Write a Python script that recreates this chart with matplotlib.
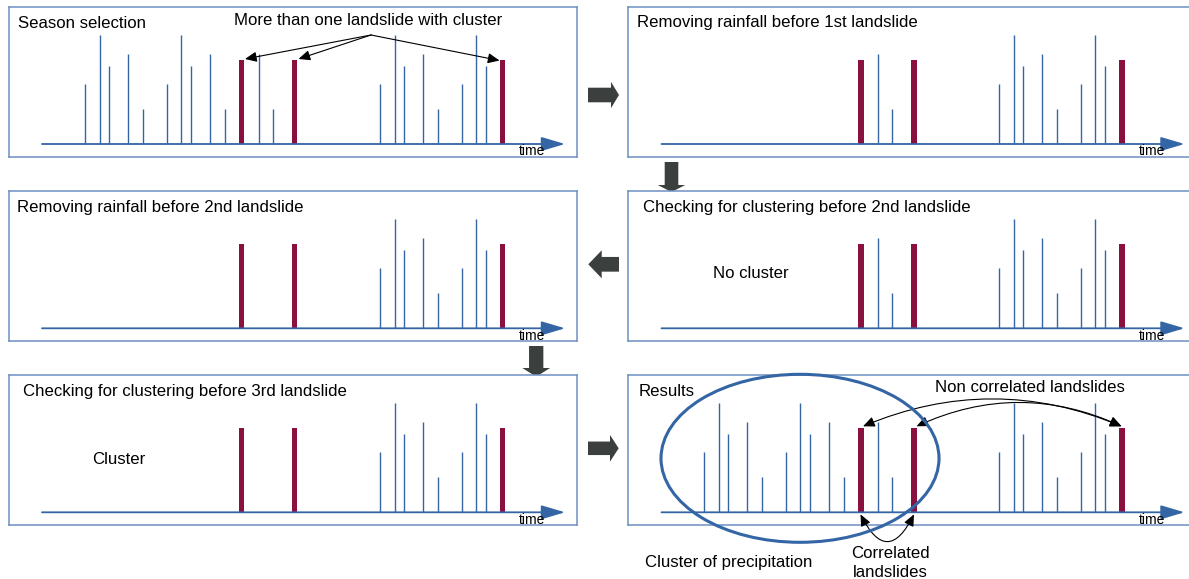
import numpy as np
import matplotlib.pyplot as plt
from matplotlib.patches import Ellipse, FancyArrow

plt.rcParams['font.family'] = ['Liberation Sans', 'DejaVu Sans']

# rainfall events (time units along the season) and their amounts
rain_time = [76, 90.5, 100, 119, 134, 158, 172, 182, 201, 216, 250, 264,
             371, 385.5, 395, 414, 429, 453, 467, 477]
rain_amount = [60, 109, 78, 90, 35, 60, 109, 78, 90, 35, 90, 35,
               60, 109, 78, 90, 35, 60, 109, 78]
# landslide events
slide_time = [232.5, 285.5, 493.5]
slide_size = [84, 84, 84]

panel_titles = ["Season selection",
                "Removing rainfall before 1st landslide",
                "Removing rainfall before 2nd landslide",
                "Checking for clustering before 2nd landslide",
                "Checking for clustering before 3rd landslide",
                "Results"]
# rainfall kept only after this landslide (None = keep all)
rain_after = [None, 0, 1, 0, 1, None]

W, H = 1189, 579
blue = "#3465a4"
box_col = "#6f8fc4"
red = "#8a1040"
grey = "#3b3f3d"
fs = 12.1

fig = plt.figure(figsize=(W / 100, H / 100), dpi=100)

# overlay for the block arrows between panels (pixel coords)
bg = fig.add_axes([0, 0, 1, 1], zorder=-1)
bg.set_xlim(0, W)
bg.set_ylim(H, 0)
bg.axis("off")
for x, y, dx, dy, w, hw, hl in [(588, 95, 31, 0, 14.6, 26.3, 8),
                                (671.5, 162, 0, 30, 13.6, 27.6, 7),
                                (619, 264.3, -30.7, 0, 14.7, 28, 13.4),
                                (536.2, 346, 0, 30.7, 14.3, 27.7, 8.7),
                                (588, 448.3, 30.7, 0, 13.5, 26.7, 8.7)]:
    bg.add_patch(FancyArrow(x, y, dx, dy, width=w, head_width=hw,
                            head_length=hl, length_includes_head=True,
                            color=grey, lw=0))

box_left = [9, 628.5]
box_top = [6.5, 190.8, 374.8]
box_w, box_h = 568, 150.5
title_pos = [(9.4, 121), (8.5, 122), (8.3, 121), (14.2, 120.5),
             (14.3, 120.5), (10, 120.5)]

axes = []
for i in range(6):
    r, c = divmod(i, 2)
    x0, y0 = box_left[c], box_top[r]
    ax = fig.add_axes([x0 / W, 1 - (y0 + box_h) / H, box_w / W, box_h / H])
    ax.set_xlim(0, box_w)
    ax.set_ylim(-13, box_h - 13)
    ax.set_xticks([])
    ax.set_yticks([])
    for s in ax.spines.values():
        s.set_color(box_col)
        s.set_linewidth(1.1)

    t = np.array(rain_time)
    a = np.array(rain_amount)
    if rain_after[i] is not None:
        keep = t > slide_time[rain_after[i]]
        t, a = t[keep], a[keep]
    ax.vlines(t, 0, a, color=blue, lw=1.0)
    ax.bar(slide_time, slide_size, width=5.7, color=red, zorder=3)

    ax.annotate("", xy=(556, 0), xytext=(33, 0),
                arrowprops=dict(arrowstyle="-|>,head_length=1.45,head_width=0.43",
                                color=blue, lw=1.3, shrinkA=0, shrinkB=0,
                                mutation_scale=10))
    ax.text(510, -7.5, "time", fontsize=10, va="center", ha="left")
    tx, ty = title_pos[i]
    ax.text(tx, ty, panel_titles[i], fontsize=fs, va="center", ha="left")
    axes.append(ax)

ap = dict(arrowstyle="-|>,head_length=0.5,head_width=0.22", color="black",
          lw=0.8, shrinkA=0, shrinkB=0, mutation_scale=14)

# panel 1
ax = axes[0]
ax.text(359.4, 123.3, "More than one landslide with cluster", fontsize=fs,
        ha="center", va="center")
for tip in [(236, 85), (289.5, 85), (490.5, 83.5)]:
    ax.annotate("", xy=tip, xytext=(362, 109), arrowprops=ap)

# cluster checks
axes[3].text(84.2, 55, "No cluster", fontsize=fs, va="center", ha="left")
axes[4].text(83.4, 52.5, "Cluster", fontsize=fs, va="center", ha="left")

# results
ax = axes[5]
ax.add_patch(Ellipse((171.5, 54), 278, 168, fill=False, ec=blue, lw=2.2,
                     clip_on=False, zorder=4))
ax.text(401.5, 125, "Non correlated landslides", fontsize=fs,
        ha="center", va="center")
ap2 = dict(ap, arrowstyle="<|-|>,head_length=0.5,head_width=0.22")
ax.annotate("", xy=(493, 86), xytext=(234.5, 86),
            arrowprops=dict(ap2, connectionstyle="arc3,rad=-0.21"))
ax.annotate("", xy=(493, 86), xytext=(288, 86),
            arrowprops=dict(ap2, connectionstyle="arc3,rad=-0.23"))
ax.annotate("", xy=(285.5, -2), xytext=(232, -2),
            arrowprops=dict(ap2, connectionstyle="arc3,rad=1.0"),
            annotation_clip=False)
ax.text(262.3, -50.5, "Correlated\nlandslides", fontsize=fs, ha="center",
        va="center", linespacing=1.3)
ax.text(16.5, -49.7, "Cluster of precipitation", fontsize=fs, ha="left",
        va="center")

fig.savefig("out.png", dpi=100)
